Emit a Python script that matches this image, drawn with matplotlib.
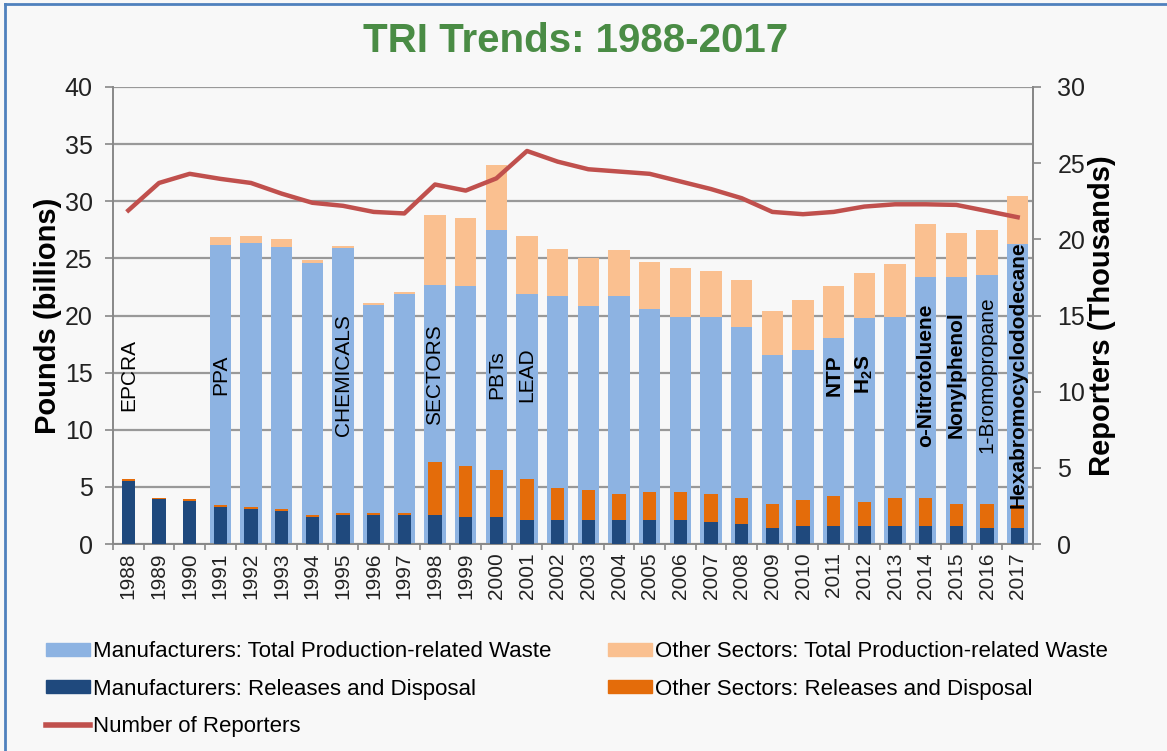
import numpy as np
import matplotlib
matplotlib.use("Agg")
import matplotlib.pyplot as plt
from matplotlib.lines import Line2D
from matplotlib.patches import Patch

plt.rcParams['font.family'] = ['Liberation Sans', 'DejaVu Sans']
plt.rcParams['mathtext.fontset'] = 'custom'
plt.rcParams['mathtext.rm'] = 'Liberation Sans'
plt.rcParams['mathtext.bf'] = 'Liberation Sans:bold'

nan = np.nan
years = [str(y) for y in range(1988, 2018)]

# billions of pounds
mfg_total = [nan, nan, nan, 26.2, 26.35, 26.0, 24.6, 25.9, 20.9, 21.9,
             22.7, 22.55, 27.5, 21.9, 21.75, 20.8, 21.75, 20.6, 19.9, 19.9,
             18.97, 16.5, 17.0, 18.0, 19.8, 19.9, 23.4, 23.4, 23.55, 26.25]
other_total = [nan, nan, nan, 0.65, 0.65, 0.7, 0.3, 0.15, 0.2, 0.2,
               6.1, 5.95, 5.7, 5.1, 4.1, 4.2, 3.95, 4.1, 4.3, 4.0,
               4.1, 3.9, 4.4, 4.55, 3.9, 4.65, 4.6, 3.8, 3.95, 4.25]
mfg_rel = [5.5, 3.9, 3.77, 3.24, 3.06, 2.89, 2.4, 2.54, 2.54, 2.54,
           2.54, 2.39, 2.39, 2.07, 2.07, 2.07, 2.07, 2.07, 2.07, 1.9,
           1.72, 1.4, 1.58, 1.58, 1.58, 1.58, 1.58, 1.58, 1.4, 1.4]
other_rel = [0.15, 0.15, 0.13, 0.16, 0.18, 0.15, 0.17, 0.17, 0.17, 0.17,
             4.6, 4.45, 4.1, 3.6, 2.8, 2.65, 2.3, 2.45, 2.45, 2.45,
             2.3, 2.13, 2.27, 2.6, 2.1, 2.45, 2.45, 1.95, 2.13, 2.0]
# thousands of reporters
reporters = [21.9, 23.7, 24.3, 23.97, 23.7, 23.0, 22.4, 22.2, 21.8, 21.7,
             23.6, 23.2, 24.0, 25.8, 25.1, 24.6, 24.45, 24.3, 23.8, 23.3,
             22.7, 21.8, 21.65, 21.8, 22.15, 22.3, 22.3, 22.26, 21.86, 21.45]

# milestone labels written on the bars
note_years = ['1988', '1991', '1995', '1998', '2000', '2001',
              '2011', '2012', '2014', '2015', '2016', '2017']
note_texts = ['EPCRA', 'PPA', 'CHEMICALS', 'SECTORS', 'PBTs', 'LEAD',
              'NTP', r'H$_\mathbf{2}$S', 'o-Nitrotoluene', 'Nonylphenol',
              '1-Bromopropane', 'Hexabromocyclododecane']
note_bold = ['NTP', r'H$_\mathbf{2}$S', 'o-Nitrotoluene', 'Nonylphenol',
             'Hexabromocyclododecane']

c_ltblue = '#8db3e2'
c_ltorange = '#fac090'
c_dkblue = '#1f497d'
c_orange = '#e46c0a'
c_red = '#c0504d'
bg = '#f8f8f8'
grid_c = '#999999'

fig = plt.figure(figsize=(11.67, 7.51), dpi=100, facecolor=bg)
ax = fig.add_axes([113 / 1167, 1 - 544 / 751, 920 / 1167, 457 / 751])
ax.set_facecolor(bg)

x = np.arange(len(years))
ax.bar(x, mfg_total, width=0.69, color=c_ltblue, zorder=2)
ax.bar(x, other_total, width=0.69, bottom=mfg_total, color=c_ltorange, zorder=2)
ax.bar(x, mfg_rel, width=0.43, color=c_dkblue, zorder=3)
ax.bar(x, other_rel, width=0.43, bottom=mfg_rel, color=c_orange, zorder=3)

ax.set_xlim(-0.5, len(years) - 0.5)
ax.set_ylim(0, 40)
ax.set_yticks(range(0, 41, 5))
ax.set_xticks(x)
ax.set_xticklabels(years, rotation=90, fontsize=15, color='#222222')
ax.set_xticks(np.arange(len(years) + 1) - 0.5, minor=True)
ax.tick_params(axis='x', which='major', length=0, pad=6)
ax.tick_params(axis='x', which='minor', length=4.5, color='#888888', width=1.2)
ax.tick_params(axis='y', length=6, color='#888888', width=1.2, labelsize=18,
               labelcolor='#222222', pad=8.5)
ax.yaxis.grid(True, color=grid_c, linewidth=1.6)
ax.set_axisbelow(True)
ax.spines['top'].set_visible(False)
for s in ['left', 'bottom', 'right']:
    ax.spines[s].set_color('#888888')
    ax.spines[s].set_linewidth(1.4)
ax.set_ylabel('Pounds (billions)', fontsize=21, fontweight='bold', labelpad=2)

for yr, txt in zip(note_years, note_texts):
    ax.text(years.index(yr), 14.8, txt, rotation=90, ha='center', va='center',
            fontsize=15, fontweight='bold' if txt in note_bold else 'normal',
            color='black', zorder=5)

ax2 = ax.twinx()
ax2.plot(x, reporters, color=c_red, linewidth=3.2, zorder=6,
         solid_joinstyle='round')
ax2.set_ylim(0, 30)
ax2.set_yticks(range(0, 31, 5))
ax2.tick_params(axis='y', length=6, color='#888888', width=1.2, labelsize=18,
                labelcolor='#222222', pad=11.5)
for s in ['top', 'left', 'bottom']:
    ax2.spines[s].set_visible(False)
ax2.spines['right'].set_color('#888888')
ax2.spines['right'].set_linewidth(1.4)
ax2.set_ylabel('Reporters (Thousands)', fontsize=21, fontweight='bold',
               labelpad=2)

fig.text(0.493, 0.945, 'TRI Trends: 1988-2017', ha='center', va='center',
         fontsize=29, fontweight='bold', color='#4a8c45')

handles = [Patch(color=c_ltblue), Patch(color=c_dkblue),
           Line2D([], [], color=c_red, linewidth=4),
           Patch(color=c_ltorange), Patch(color=c_orange)]
labels = ['Manufacturers: Total Production-related Waste',
          'Manufacturers: Releases and Disposal',
          'Number of Reporters',
          'Other Sectors: Total Production-related Waste',
          'Other Sectors: Releases and Disposal']
fig.legend(handles, labels, loc='upper left', bbox_to_anchor=(0.039, 0.146),
           ncol=2, frameon=False, borderpad=0, borderaxespad=0,
           handlelength=2.0, handleheight=0.5, handletextpad=0.12,
           columnspacing=2.55, labelspacing=0.73, fontsize=16)

# blue frame of the slide
fig.add_artist(Line2D([5 / 1167, 5 / 1167], [0, 1 - 4 / 751],
                      transform=fig.transFigure, color='#4f81bd', linewidth=2))
fig.add_artist(Line2D([5 / 1167, 1], [1 - 4 / 751, 1 - 4 / 751],
                      transform=fig.transFigure, color='#4f81bd', linewidth=2))

fig.savefig('out.png', dpi=100, facecolor=bg)
